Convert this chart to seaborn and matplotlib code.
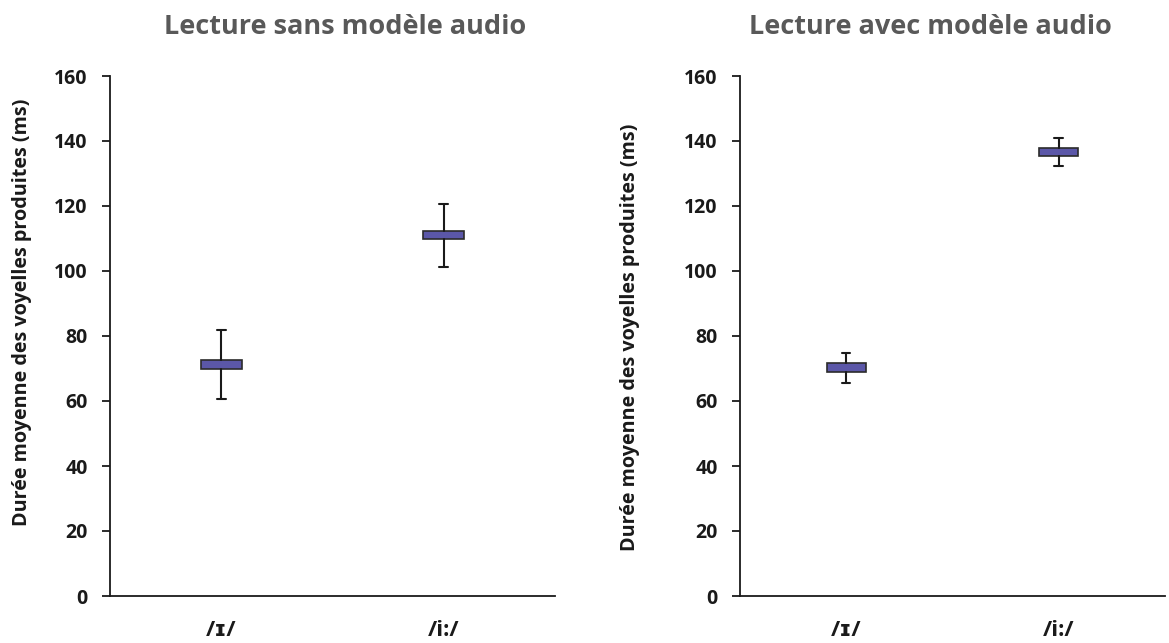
import matplotlib
matplotlib.use("Agg")
import matplotlib.pyplot as plt
import seaborn as sns

# ---- data ----
categories = ["/ɪ/", "/i:/"]
titles = ["Lecture sans modèle audio", "Lecture avec modèle audio"]
ylabel = "Durée moyenne des voyelles produites (ms)"
yticks = [0, 20, 40, 60, 80, 100, 120, 140, 160]

# panel 1: sans modèle audio
box_low_1 = [69.8, 109.8]
box_high_1 = [72.5, 112.3]
whisk_low_1 = [60.6, 101.3]
whisk_high_1 = [81.8, 120.7]

# panel 2: avec modèle audio
box_low_2 = [68.8, 135.3]
box_high_2 = [71.6, 138.0]
whisk_low_2 = [65.5, 132.4]
whisk_high_2 = [74.7, 140.9]

sns.set_theme(style="ticks")
plt.rcParams["font.family"] = ["Open Sans", "DejaVu Sans"]
plt.rcParams["font.weight"] = "bold"

fig = plt.figure(figsize=(11.69, 6.43), dpi=100)
ax1 = fig.add_axes([110/1169, 1-596/643, 445/1169, 520/643])
ax2 = fig.add_axes([740/1169, 1-596/643, 425/1169, 520/643])

fill = "#5B57A8"
edge = "#2b2b2b"

panels = [
    (ax1, box_low_1, box_high_1, whisk_low_1, whisk_high_1, (-0.175, 0.546)),
    (ax2, box_low_2, box_high_2, whisk_low_2, whisk_high_2, (-0.236, 0.498)),
]
for ax, bl, bh, wl, wh, lc in panels:
    stats = []
    for i, c in enumerate(categories):
        stats.append(dict(label=c, q1=bl[i], q3=bh[i], med=(bl[i]+bh[i])/2,
                          whislo=wl[i], whishi=wh[i], fliers=[]))
    ax.bxp(stats, positions=[0, 1], widths=0.185, patch_artist=True,
           showfliers=False, capwidths=0.04,
           boxprops=dict(facecolor=fill, edgecolor=edge, linewidth=1.2),
           whiskerprops=dict(color="#1a1a1a", linewidth=1.5),
           capprops=dict(color="#1a1a1a", linewidth=1.5),
           medianprops=dict(linewidth=0))
    ax.set_xlim(-0.5, 1.5)
    ax.set_ylim(0, 160)
    ax.set_yticks(yticks)
    ax.set_xticks([0, 1])
    ax.set_xticklabels(categories)
    ax.tick_params(axis="y", length=6, width=1.3, pad=10, labelsize=14, colors="#1a1a1a")
    ax.tick_params(axis="x", length=0, pad=17, labelsize=16)
    for lab in ax.get_xticklabels() + ax.get_yticklabels():
        lab.set_fontweight("bold")
        lab.set_color("#1a1a1a")
    ax.set_ylabel(ylabel, fontsize=14.2, fontweight="bold", color="#1a1a1a")
    ax.yaxis.set_label_coords(lc[0], lc[1])
    sns.despine(ax=ax)
    for s in ["left", "bottom"]:
        ax.spines[s].set_linewidth(1.3)
        ax.spines[s].set_color("#1a1a1a")
    ax.set_facecolor("white")

fig.text(345/1169, 1-27/643, titles[0], ha="center", va="center", fontsize=19.5,
         fontweight="bold", color="#595959")
fig.text(930/1169, 1-27/643, titles[1], ha="center", va="center", fontsize=19.5,
         fontweight="bold", color="#595959")

fig.savefig("out.png", dpi=100, facecolor="white")
